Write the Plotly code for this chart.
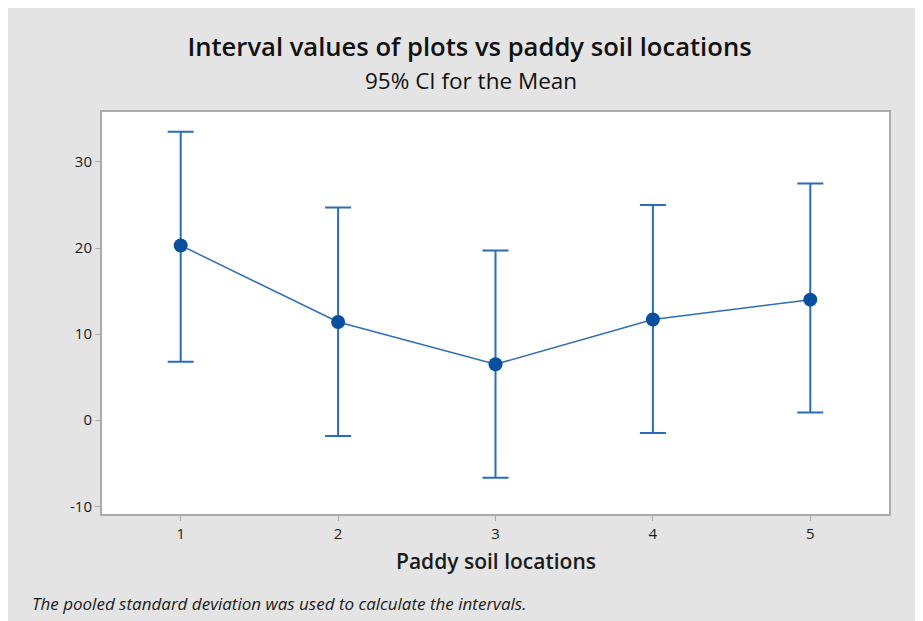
import plotly.graph_objects as go

locations = [1, 2, 3, 4, 5]
means = [20.3, 11.4, 6.5, 11.7, 14.0]
upper = [33.5, 24.7, 19.7, 25.0, 27.5]
lower = [6.8, -1.85, -6.7, -1.5, 0.9]
y_ticks = [-10, 0, 10, 20, 30]
y_tick_labels = ["-10", "0", "10", "20", "30"]

err_plus = [u - m for u, m in zip(upper, means)]
err_minus = [m - l for m, l in zip(means, lower)]

fig = go.Figure()
fig.add_trace(go.Scatter(
    x=locations, y=means, mode="lines+markers",
    line=dict(color="#2f6db5", width=1.5),
    marker=dict(color="#0a4f9e", size=14),
    error_y=dict(type="data", symmetric=False, array=err_plus, arrayminus=err_minus,
                 color="#2a6cb8", thickness=2, width=13),
    showlegend=False,
))

font_fam = "Open Sans, Noto Sans, sans-serif"
axis_col = "#ababab"
txt = "#1a1a1a"

fig.update_layout(
    width=923, height=621,
    margin=dict(l=94, r=42, t=104, b=115),
    paper_bgcolor="#e4e4e4",
    plot_bgcolor="white",
    font=dict(family=font_fam, color=txt, size=15),
    title=dict(
        text="Interval values of plots vs paddy soil locations",
        x=0.5, xanchor="center", xref="container",
        y=0.937, yanchor="middle", yref="container",
        font=dict(size=25.6, family=font_fam, color="#111111", weight=600),
    ),
    xaxis=dict(
        range=[0.5, 5.5], tickvals=locations, ticktext=[str(v) for v in locations],
        showgrid=False, zeroline=False, showline=True, linecolor=axis_col, linewidth=2,
        mirror=True, ticks="outside", ticklen=5, tickcolor=axis_col, tickwidth=1,
        tickfont=dict(size=15, color=txt),
    ),
    yaxis=dict(
        range=[-10.9, 35.8], tickvals=y_ticks, ticktext=y_tick_labels,
        showgrid=False, zeroline=False, showline=True, linecolor=axis_col, linewidth=2,
        mirror=True, ticks="outside", ticklen=5, tickcolor=axis_col, tickwidth=1,
        tickfont=dict(size=15, color=txt),
    ),
    annotations=[
        dict(text="95% CI for the Mean", xref="paper", yref="paper",
             x=0.4695, y=1.0796, xanchor="center", yanchor="middle", showarrow=False,
             font=dict(size=22.5, color="#111111")),
        dict(text="Paddy soil locations", xref="paper", yref="paper",
             x=0.5006, y=-0.117, xanchor="center", yanchor="middle", showarrow=False,
             font=dict(size=21, color=txt, weight=600)),
        dict(text="<i>The pooled standard deviation was used to calculate the intervals.</i>",
             xref="paper", yref="paper", x=-0.0915, y=-0.2214, xanchor="left", yanchor="middle",
             showarrow=False, font=dict(size=17, color=txt)),
    ],
)

fig.write_html("out.html")
